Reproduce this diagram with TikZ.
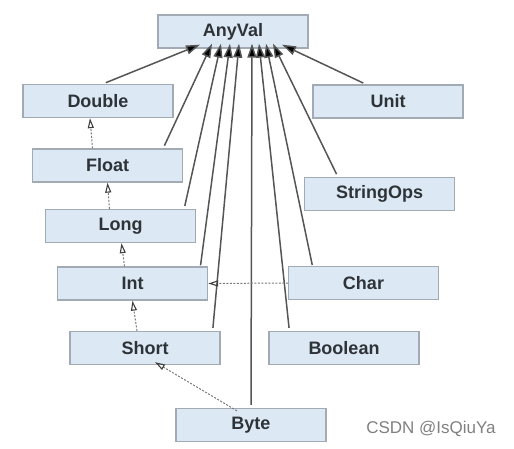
\documentclass[tikz,border=0pt]{standalone}
\usepackage{fontspec}
\setmainfont{Liberation Sans}
\usetikzlibrary{arrows.meta}
\definecolor{boxfill}{HTML}{DCE9F5}
\definecolor{boxline}{HTML}{A2ABB3}
\definecolor{txt}{HTML}{2E3338}
\definecolor{solidline}{HTML}{555555}
\definecolor{dashline}{HTML}{7A7A7A}
\begin{document}
\begin{tikzpicture}[x=1pt,y=-1pt,
  typebox/.style={draw=boxline,line width=1.3pt,fill=boxfill,minimum width=150pt,minimum height=33pt,inner sep=0pt,
    font=\fontsize{18}{20}\selectfont\bfseries,text=txt},
  inherit/.style={draw=solidline,line width=1.5pt,shorten <=3pt,-{Triangle[length=14pt,width=9pt,fill=black]}},
  conv/.style={draw=dashline,line width=1pt,dash pattern=on 2pt off 1.5pt,-{Triangle[open,length=10pt,width=6pt,line width=1.1pt,color=black!75]}}]
\useasboundingbox (0,0) rectangle (514,449);
\node[typebox] (anyval) at (233,31.5) {AnyVal};
\node[typebox] (double) at (98,101) {Double};
\node[typebox] (float) at (107.5,165.5) {Float};
\node[typebox] (long) at (120.5,226) {Long};
\node[typebox] (int) at (132.5,283.5) {Int};
\node[typebox] (short) at (145,348) {Short};
\node[typebox] (byte) at (251,425) {Byte};
\node[typebox] (unit) at (388,101.5) {Unit};
\node[typebox] (stringops) at (379.5,194) {StringOps};
\node[typebox] (char) at (363.5,283) {Char};
\node[typebox] (boolean) at (344,348) {Boolean};
% solid inheritance arrows to AnyVal
\draw[inherit] ([xshift=5pt]double.north) -- ([xshift=-33pt,yshift=4pt]anyval.south);
\draw[inherit] ([xshift=-20pt]float.north east) -- ([xshift=-21pt,yshift=5pt]anyval.south);
\draw[inherit] ([xshift=-12pt]long.north east) -- ([xshift=-12pt,yshift=5pt]anyval.south);
\draw[inherit] ([xshift=-8pt,yshift=-2pt]int.north east) -- ([xshift=-3pt,yshift=5pt]anyval.south);
\draw[inherit] ([xshift=-8pt]short.north east) -- ([xshift=6pt,yshift=5pt]anyval.south);
\draw[inherit] (byte.north) -- ([xshift=19pt,yshift=5pt]anyval.south);
\draw[inherit] ([xshift=21pt]boolean.north west) -- ([xshift=26pt,yshift=5pt]anyval.south);
\draw[inherit] ([xshift=25pt,yshift=-2pt]char.north west) -- ([xshift=33pt,yshift=5pt]anyval.south);
\draw[inherit] ([xshift=34pt]stringops.north west) -- ([xshift=40pt,yshift=5pt]anyval.south);
\draw[inherit] ([xshift=-22pt]unit.north) -- ([xshift=49pt,yshift=4pt]anyval.south);
% dashed conversion arrows
\draw[conv] ([xshift=-15pt]float.north) -- ([xshift=-8pt]double.south);
\draw[conv] ([xshift=-11pt]long.north) -- ([xshift=0pt]float.south);
\draw[conv] ([xshift=-8pt]int.north) -- ([xshift=1pt]long.south);
\draw[conv] ([xshift=-8pt]short.north) -- ([xshift=0pt]int.south);
\draw[conv] ([xshift=-14pt,yshift=-3pt]byte.north) -- ([xshift=10pt,yshift=3pt]short.south);
\draw[conv] (char.west) -- (int.east);
\node[font=\fontsize{17}{19}\selectfont,text=black!50,anchor=center] (wm) at (431,429) {CSDN @IsQiuYa};
\end{tikzpicture}
\end{document}
